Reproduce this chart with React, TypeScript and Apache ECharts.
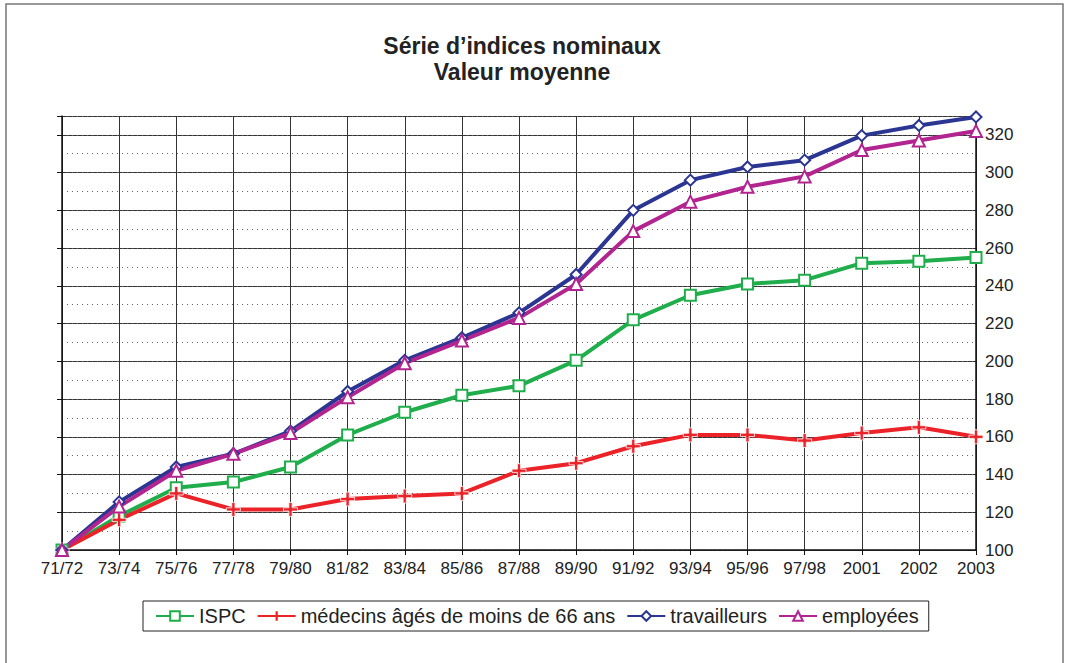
import React, { useEffect, useRef } from "react";
import * as echarts from "echarts";

const categories = ["71/72", "73/74", "75/76", "77/78", "79/80", "81/82", "83/84", "85/86", "87/88", "89/90", "91/92", "93/94", "95/96", "97/98", "2001", "2002", "2003"];
const ispc = [100, 118, 133, 136, 144, 161, 173, 182, 187, 200.5, 222, 235, 241, 243, 252, 253, 255];
const medecins = [100, 116, 130, 121.5, 121.5, 127, 128.6, 130, 142, 146, 155, 161, 161, 158, 162, 165, 160];
const travailleurs = [100, 125.5, 144, 151, 163, 184, 200.5, 212.5, 225.7, 246, 280, 296, 303, 306.6, 319.6, 325, 329.5];
const employees = [100, 123, 142, 151, 162, 181, 199, 211, 223, 241, 269, 284.6, 292.5, 298, 312, 317, 322];
const seriesNames = ["ISPC", "médecins âgés de moins de 66 ans", "travailleurs", "employées"];
const titleLines = ["Série d’indices nominaux", "Valeur moyenne"];

const FONT = "'Liberation Sans', Arial, Helvetica, sans-serif";
const PLUS = "path://M4.6,0H7.4V4.6H12V7.4H7.4V12H4.6V7.4H0V4.6H4.6Z";
const RED = "#ec2229";

export default function App() {
  const ref = useRef<HTMLDivElement>(null);
  useEffect(() => {
    if (!ref.current) return;
    const chart = echarts.init(ref.current, null, { renderer: "svg" });
    const mk = (name: string, data: number[], color: string, symbol: string, size: number, plus = false) => ({
      name,
      type: "line",
      data,
      yAxisIndex: 0,
      symbol,
      symbolSize: size,
      showAllSymbol: true,
      color,
      lineStyle: { color, width: 4 },
      itemStyle: plus
        ? { color, borderColor: "#fff", borderWidth: 0.8 }
        : { color: "#fff", borderColor: color, borderWidth: 2 },
      emphasis: { disabled: true },
    });
    chart.setOption({
      animation: false,
      backgroundColor: "#fff",
      textStyle: { fontFamily: FONT },
      graphic: [
        {
          type: "rect",
          shape: { x: 6, y: 4, width: 1057, height: 700 },
          style: { fill: "none", stroke: "#777", lineWidth: 1.5 },
          silent: true,
        },
        {
          type: "text",
          x: 522,
          y: 46,
          style: { text: titleLines[0], align: "center", verticalAlign: "middle", fontSize: 23, fontWeight: "bold", fontFamily: FONT, fill: "#222" },
        },
        {
          type: "text",
          x: 522,
          y: 72,
          style: { text: titleLines[1], align: "center", verticalAlign: "middle", fontSize: 23, fontWeight: "bold", fontFamily: FONT, fill: "#222" },
        },
      ],
      legend: {
        data: [
          seriesNames[0],
          { name: seriesNames[1], itemStyle: { color: RED, borderColor: RED, borderWidth: 0 } },
          seriesNames[2],
          seriesNames[3],
        ],
        left: 143,
        top: 601,
        padding: [5, 10, 5, 12],
        itemGap: 11,
        itemWidth: 38,
        itemHeight: 12,
        borderColor: "#222",
        borderWidth: 1,
        textStyle: { fontSize: 20, color: "#222", fontFamily: FONT },
      },
      grid: { left: 62, right: 94, top: 116, bottom: 113, containLabel: false },
      xAxis: {
        type: "category",
        data: categories,
        boundaryGap: false,
        axisLine: { show: true, lineStyle: { color: "#111", width: 1.5 } },
        axisTick: { show: true, length: 5, lineStyle: { color: "#111" } },
        axisLabel: { fontSize: 17, color: "#222", margin: 10, fontFamily: FONT },
        splitLine: { show: true, lineStyle: { color: "#333", width: 1 } },
      },
      yAxis: [
        {
          type: "value",
          position: "left",
          min: 100,
          max: 330,
          interval: 20,
          axisLine: { show: true, lineStyle: { color: "#111", width: 1.5 } },
          axisTick: { show: true, length: 5, lineStyle: { color: "#111" } },
          axisLabel: { show: false },
          splitLine: { show: true, lineStyle: { color: "#333", width: 1 } },
        },
        {
          type: "value",
          position: "right",
          min: 100,
          max: 330,
          interval: 20,
          axisLine: { show: true, lineStyle: { color: "#111", width: 1.5 } },
          axisTick: { show: false },
          axisLabel: { show: true, fontSize: 17, color: "#222", margin: 9, showMaxLabel: false, fontFamily: FONT },
          splitLine: { show: false },
        },
        {
          type: "value",
          position: "left",
          min: 100,
          max: 330,
          interval: 10,
          axisLine: { show: false },
          axisTick: { show: false },
          axisLabel: { show: false },
          splitLine: { show: true, lineStyle: { color: "#666", width: 1, type: [1, 4] } },
        },
      ],
      series: [
        mk(seriesNames[0], ispc, "#1fae4b", "rect", 11),
        mk(seriesNames[1], medecins, RED, PLUS, 14, true),
        mk(seriesNames[2], travailleurs, "#2b3592", "diamond", 11),
        mk(seriesNames[3], employees, "#b2248f", "triangle", 12),
      ],
    });
    return () => chart.dispose();
  }, []);
  return <div ref={ref} style={{ position: "absolute", left: 0, top: 0, width: 1070, height: 663 }} />;
}
